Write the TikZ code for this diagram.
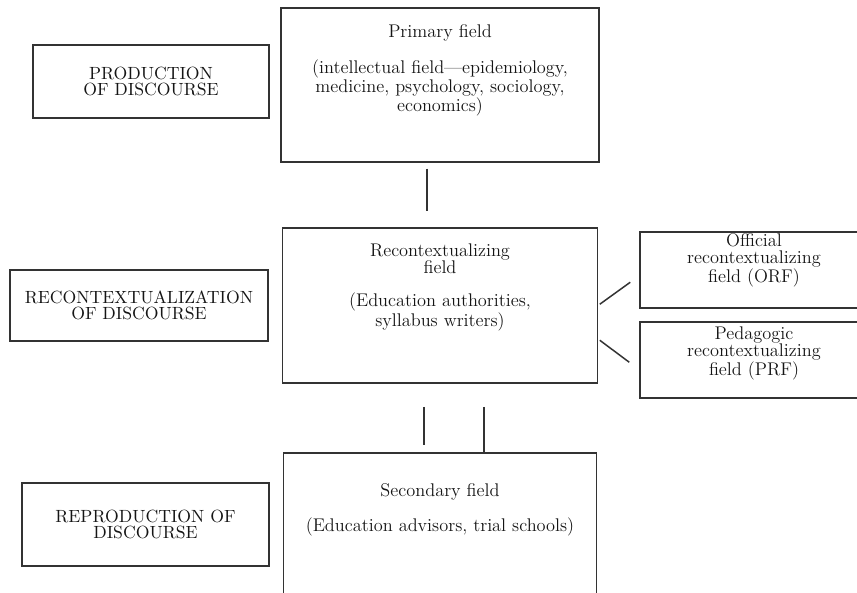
\documentclass[tikz,border=0pt]{standalone}
\usepackage{tikz}
\usetikzlibrary{positioning, calc}
\definecolor{grisTrazo}{HTML}{333333}
\definecolor{grisTexto}{HTML}{151515}

\begin{document}
\begin{tikzpicture}[x=0.6pt, y=-0.6pt, font=\fontsize{11}{10.2}\selectfont,
        fld/.style={draw=grisTrazo, line width=0.9pt, inner sep=0},
        lvl/.style={draw=grisTrazo, line width=0.9pt, inner sep=0,
            align=center, text=grisTexto, font=\fontsize{10.6}{10}\selectfont},
        txt/.style={align=center, text=grisTexto, inner sep=0},
        ln/.style={grisTrazo, line width=0.9pt}]
        \useasboundingbox (0,0) rectangle (857,593);
        \clip (0,0) rectangle (857,593);
        % fields (middle column and right)
        \node[fld, minimum width=190.8pt, minimum height=92.4pt] (prim) at (440,85) {};
        \node[fld, minimum width=189pt, minimum height=93pt] (rec) at (440,305.5) {};
        \node[fld, minimum width=187.8pt, minimum height=96pt] (sec) at (440,533) {};
        \node[fld, minimum width=136.8pt, minimum height=45.6pt] (orf) at (754,270) {};
        \node[fld, minimum width=136.8pt, minimum height=45.6pt] (prf) at (754,360) {};
        \node[txt, below=10pt of prim.north] (primT) {Primary field\\[10.5pt]
            (intellectual field—epidemiology,\\medicine, psychology, sociology,\\economics)};
        \node[txt, below=10pt of rec.north] (recT) {Recontextualizing\\field\\[9.5pt]
            (Education authorities,\\syllabus writers)};
        \node[txt, below=18.5pt of sec.north] (secT) {Secondary field\\[9.5pt]
            (Education advisors, trial schools)};
        \node[txt, below=1pt of orf.north] (orfT) {Official\\recontextualizing\\field (ORF)};
        \node[txt, below=3pt of prf.north] (prfT) {Pedagogic\\recontextualizing\\field (PRF)};
        % levels
        \node[lvl, minimum width=141.6pt, minimum height=43.8pt] (prod) at (151,81.5)
            {PRODUCTION\\OF DISCOURSE};
        \node[lvl, minimum width=154.8pt, minimum height=42.6pt] (recL) at (139,305.5)
            {RECONTEXTUALIZATION\\OF DISCOURSE};
        \node[lvl, minimum width=148.2pt, minimum height=49.8pt] (repro) at (145.5,524.5)
            {REPRODUCTION OF\\DISCOURSE};
        % links
        \draw[ln, shorten <=3.6pt, shorten >=9.6pt] ($(prim.south)+(-13,0)$) -- ($(rec.north)+(-13,0)$);
        \draw[ln, shorten <=13.8pt, shorten >=4.2pt] ($(rec.south)+(-16,0)$) -- ($(sec.north)+(-16,0)$);
        \draw[ln, shorten <=13.8pt] ($(rec.south)+(44,0)$) -- ($(sec.north)+(44,0)$);
        \draw[ln] ($(rec.north east)+(1.5,77)$) -- ($(orf.north west)+(-9,51)$);
        \draw[ln] ($(rec.north east)+(1.5,113)$) -- ($(prf.north west)+(-10,41)$);
    \end{tikzpicture}
\end{document}
